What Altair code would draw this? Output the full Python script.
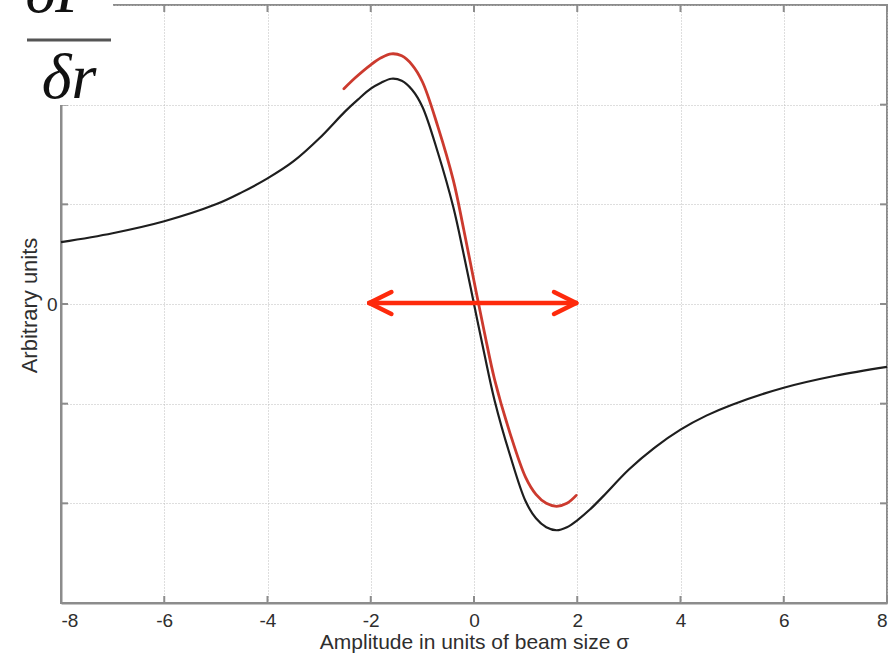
import altair as alt
import pandas as pd

# ---- data ----
black_x = [-8, -7, -6, -5, -4.5, -4, -3.5, -3, -2.5, -2.25, -2.0, -1.8, -1.6, -1.4, -1.2, -1.0, -0.7, -0.4, -0.2, 0,
           0.2, 0.4, 0.7, 1.0, 1.2, 1.4, 1.6, 1.8, 2.0, 2.25, 2.5, 3.0, 3.5, 4, 4.5, 5, 6, 7, 8]
black_y = [0.62, 0.71, 0.83, 1.0, 1.12, 1.26, 1.43, 1.66, 1.93, 2.05, 2.16, 2.22, 2.26, 2.24, 2.15, 1.98, 1.52, 0.97, 0.5, 0,
           -0.5, -0.97, -1.52, -1.98, -2.15, -2.24, -2.27, -2.24, -2.17, -2.06, -1.93, -1.66, -1.44, -1.26, -1.12, -1.01, -0.84, -0.72, -0.63]

red_x = [-2.52, -2.3, -2.0, -1.8, -1.6, -1.4, -1.2, -1.0, -0.7, -0.4, -0.2, 0.0, 0.2, 0.4, 0.7,
         1.0, 1.2, 1.4, 1.6, 1.8, 1.98]
red_y = [2.16, 2.27, 2.40, 2.47, 2.51, 2.49, 2.40, 2.23, 1.78, 1.24, 0.75, 0.23, -0.28, -0.76, -1.3,
         -1.74, -1.91, -2.0, -2.03, -2.0, -1.92]

# double arrow: shaft ends and arrow-head wing ends
arrow_seg_x = [-2.03, -2.03, -2.03, 1.98, 1.98]
arrow_seg_y = [0.01, 0.01, 0.01, 0.01, 0.01]
arrow_seg_x2 = [1.98, -1.60, -1.60, 1.55, 1.55]
arrow_seg_y2 = [0.01, 0.12, -0.10, 0.12, -0.10]

x_ticks = [-8, -6, -4, -2, 0, 2, 4, 6, 8]
y_ticks = [-3, -2, -1, 0, 1, 2, 3]

x_title = "Amplitude in units of beam size σ"
y_title = "Arbitrary units"

# ---- tables ----
black_df = pd.DataFrame({"x": black_x, "y": black_y})
red_df = pd.DataFrame({"x": red_x, "y": red_y})
arrow_df = pd.DataFrame({"x": arrow_seg_x, "y": arrow_seg_y, "x2": arrow_seg_x2, "y2": arrow_seg_y2})
xt_df = pd.DataFrame({"x": x_ticks})
yt_df = pd.DataFrame({"y": y_ticks})

W, H = 826, 598
FONT = "Liberation Sans"
AX = "#8c8c8c"
TXT = "#2e2e2e"

xscale = alt.Scale(domain=[-8, 8], nice=False, zero=False)
yscale = alt.Scale(domain=[-3, 3], nice=False, zero=False)

X = alt.X("x:Q", scale=xscale, title=x_title,
          axis=alt.Axis(values=x_ticks, grid=True, gridColor="#bdbdbd", gridDash=[1, 2], gridWidth=1,
                        domainColor=AX, domainWidth=2, ticks=False, labelPadding=8,
                        labelExpr="'' + datum.value",
                        labelFont=FONT, labelFontSize=19, labelColor=TXT,
                        titleFont=FONT, titleFontSize=21, titleFontWeight="normal", titleColor=TXT,
                        titleX=413, titleY=45, titleBaseline="alphabetic", titleAlign="center",
                        zindex=0))
Y = alt.Y("y:Q", scale=yscale, title=y_title,
          axis=alt.Axis(values=y_ticks, grid=True, gridColor="#bdbdbd", gridDash=[1, 2], gridWidth=1,
                        domainColor=AX, domainWidth=2, ticks=False, labelPadding=4,
                        labelExpr="datum.value == 0 ? '0' : ''",
                        labelFont=FONT, labelFontSize=19, labelColor=TXT,
                        titleFont=FONT, titleFontSize=22, titleFontWeight="normal", titleColor=TXT,
                        titleX=-25, titleY=300, titleBaseline="alphabetic", titleAlign="center",
                        titleAngle=270, zindex=0))

black = alt.Chart(black_df).mark_line(color="#1e1e1e", strokeWidth=2.2, interpolate="catmull-rom").encode(x=X, y=Y)
red = alt.Chart(red_df).mark_line(color="#cc3a2e", strokeWidth=2.8, interpolate="catmull-rom",
                                  strokeCap="round").encode(x=alt.X("x:Q", scale=xscale), y=alt.Y("y:Q", scale=yscale))
arrow = alt.Chart(arrow_df).mark_rule(color="#fe2a0c", strokeWidth=4.5, strokeCap="round").encode(
    x=alt.X("x:Q", scale=xscale), y=alt.Y("y:Q", scale=yscale), x2="x2:Q", y2="y2:Q")

tick_style = dict(color=AX, strokeWidth=2)
xt_bottom = alt.Chart(xt_df).mark_rule(**tick_style).encode(
    x=alt.X("x:Q", scale=xscale), y=alt.value(H), y2=alt.value(H - 7))
xt_top = alt.Chart(xt_df).mark_rule(**tick_style).encode(
    x=alt.X("x:Q", scale=xscale), y=alt.value(0), y2=alt.value(7))
yt_left = alt.Chart(yt_df).mark_rule(**tick_style).encode(
    y=alt.Y("y:Q", scale=yscale), x=alt.value(0), x2=alt.value(7))
yt_right = alt.Chart(yt_df).mark_rule(**tick_style).encode(
    y=alt.Y("y:Q", scale=yscale), x=alt.value(W), x2=alt.value(W - 7))

one = alt.Data(values=[{"a": 1}])
cover = alt.Chart(one).mark_rect(color="white", opacity=1).encode(
    x=alt.value(-61), x2=alt.value(52), y=alt.value(-5), y2=alt.value(100))
frac_bar = alt.Chart(one).mark_rule(color="#555555", strokeWidth=3).encode(
    x=alt.value(-34), x2=alt.value(50), y=alt.value(35), y2=alt.value(35))
num = alt.Chart(one).mark_text(text="δF", font="Liberation Serif", fontStyle="italic", fontSize=64,
                               align="center", baseline="alphabetic", color="#111111").encode(
    x=alt.value(-1), y=alt.value(7))
den = alt.Chart(one).mark_text(text="δr", font="Liberation Serif", fontStyle="italic", fontSize=64,
                               align="center", baseline="alphabetic", color="#111111").encode(
    x=alt.value(8), y=alt.value(93))

chart = alt.layer(
    xt_bottom, xt_top, yt_left, yt_right, black, red, arrow, cover, frac_bar, num, den
).properties(
    width=W, height=H,
    padding={"left": 61, "top": 5, "right": 7, "bottom": 54},
    autosize=alt.AutoSizeParams(type="none"),
    background="white",
).configure_view(stroke=AX, strokeWidth=2)

chart.save("out.html", embed_options={"renderer": "svg", "actions": False})
